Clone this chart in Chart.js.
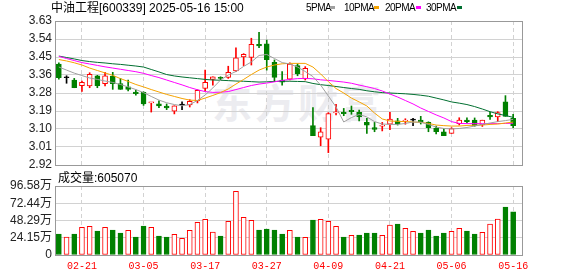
<!DOCTYPE html>
<html>
<head>
<meta charset="utf-8">
<script src="https://cdn.jsdelivr.net/npm/chart.js@4.4.1/dist/chart.umd.min.js"></script>
<style>
  body { margin: 0; background: #fff; }
  #wrap { position: relative; width: 578px; height: 276px; overflow: hidden; font-family: 'Liberation Sans', 'Noto Sans CJK SC', sans-serif; }
  #wrap canvas { position: absolute; left: 0; }
  .txt { position: absolute; white-space: nowrap; font-size: 12px; color: #000; line-height: 12px; }
  .leg { position: absolute; top: 3px; font-size: 10px; letter-spacing: -0.5px; line-height: 10px; color: #000; white-space: nowrap; }
  .sw { position: absolute; top: 6px; width: 5px; height: 3px; }
  #mark { position: absolute; left: 212px; top: 72px; font: bold 40px 'Noto Sans CJK SC', sans-serif; color: #ececf0; letter-spacing: 3px; }
</style>
</head>
<body>
<div id="wrap">
  <div id="mark">东方财富</div>
  <canvas id="kline" width="578" height="176" style="top:0"></canvas>
  <canvas id="vol" width="578" height="106" style="top:170px"></canvas>
  <div class="txt" style="left:51px; top:2px">中油工程[600339] 2025-05-16 15:00</div>
  <div class="leg" style="left:306px">5PMA</div><div class="sw" style="left:330px; background:#a0a0a0"></div>
  <div class="leg" style="left:344px">10PMA</div><div class="sw" style="left:374px; background:#f5a300"></div>
  <div class="leg" style="left:385px">20PMA</div><div class="sw" style="left:416px; background:#ff00ff"></div>
  <div class="leg" style="left:426px">30PMA</div><div class="sw" style="left:457px; background:#006f30"></div>
  <div class="txt" style="left:58px; top:172px">成交量:605070</div>
</div>
<script>
const dates = [
  '02-18', '02-19', '02-20', '02-21', '02-24', '02-25', '02-26', '02-27', '02-28', '03-03',
  '03-04', '03-05', '03-06', '03-07', '03-10', '03-11', '03-12', '03-13', '03-14', '03-17',
  '03-18', '03-19', '03-20', '03-21', '03-24', '03-25', '03-26', '03-27', '03-28', '03-31',
  '04-01', '04-02', '04-03', '04-07', '04-08', '04-09', '04-10', '04-11', '04-14', '04-15',
  '04-16', '04-17', '04-18', '04-21', '04-22', '04-23', '04-24', '04-25', '04-28', '04-29',
  '04-30', '05-06', '05-07', '05-08', '05-09', '05-12', '05-13', '05-14', '05-15', '05-16'
]
const opens = [
  3.418, 3.350, 3.339, 3.311, 3.310, 3.360, 3.321, 3.359, 3.321, 3.305,
  3.280, 3.278, 3.226, 3.222, 3.211, 3.185, 3.216, 3.216, 3.236, 3.298,
  3.342, 3.350, 3.352, 3.384, 3.453, 3.451, 3.515, 3.517, 3.426, 3.339,
  3.343, 3.410, 3.344, 3.114, 3.057, 3.047, 3.177, 3.180, 3.190, 3.180,
  3.130, 3.104, 3.111, 3.121, 3.138, 3.136, 3.141, 3.141, 3.130, 3.102,
  3.083, 3.076, 3.124, 3.142, 3.142, 3.119, 3.165, 3.157, 3.231, 3.150
]
const highs = [
  3.424, 3.360, 3.347, 3.334, 3.375, 3.362, 3.377, 3.377, 3.347, 3.339,
  3.290, 3.281, 3.229, 3.237, 3.221, 3.212, 3.232, 3.242, 3.291, 3.388,
  3.355, 3.355, 3.407, 3.498, 3.469, 3.545, 3.574, 3.536, 3.438, 3.380,
  3.424, 3.419, 3.405, 3.203, 3.104, 3.178, 3.219, 3.199, 3.211, 3.191,
  3.150, 3.130, 3.130, 3.180, 3.150, 3.148, 3.150, 3.160, 3.133, 3.112,
  3.099, 3.104, 3.153, 3.152, 3.152, 3.141, 3.180, 3.183, 3.262, 3.170
]
const lows = [
  3.343, 3.323, 3.301, 3.283, 3.301, 3.301, 3.310, 3.293, 3.293, 3.285,
  3.264, 3.214, 3.181, 3.203, 3.193, 3.172, 3.193, 3.206, 3.226, 3.285,
  3.314, 3.340, 3.347, 3.380, 3.410, 3.413, 3.498, 3.388, 3.331, 3.314,
  3.339, 3.360, 3.339, 3.064, 3.015, 2.981, 3.167, 3.163, 3.170, 3.137,
  3.076, 3.084, 3.088, 3.094, 3.117, 3.121, 3.114, 3.122, 3.084, 3.073,
  3.064, 3.076, 3.117, 3.127, 3.111, 3.110, 3.145, 3.134, 3.160, 3.104
]
const closes = [
  3.350, 3.350, 3.301, 3.328, 3.367, 3.311, 3.360, 3.321, 3.293, 3.293,
  3.272, 3.221, 3.229, 3.211, 3.201, 3.212, 3.216, 3.234, 3.288, 3.328,
  3.355, 3.347, 3.377, 3.448, 3.466, 3.515, 3.507, 3.439, 3.352, 3.328,
  3.417, 3.370, 3.397, 3.064, 3.083, 3.173, 3.182, 3.173, 3.183, 3.157,
  3.116, 3.096, 3.117, 3.147, 3.122, 3.141, 3.141, 3.132, 3.104, 3.084,
  3.064, 3.099, 3.141, 3.134, 3.114, 3.141, 3.157, 3.178, 3.160, 3.114
]
// volume in 万
const volumes = [
  29.4, 25.2, 29.4, 38.7, 40.1, 33.6, 38.7, 35.0, 30.8, 34.5,
  25.2, 40.6, 38.7, 26.6, 25.2, 28.9, 23.3, 34.5, 45.7, 50.0,
  32.2, 26.6, 47.2, 89.2, 52.8, 48.6, 35.0, 36.4, 35.0, 29.4,
  34.5, 25.2, 24.7, 49.0, 50.0, 47.2, 40.1, 25.2, 27.5, 28.0,
  30.8, 30.8, 27.5, 42.0, 43.4, 37.3, 33.1, 30.8, 35.0, 26.6,
  30.8, 33.1, 37.3, 33.6, 29.4, 31.7, 43.4, 50.4, 67.2, 60.5
]
const ma5 = [
  3.403, 3.388, 3.373, 3.361, 3.349, 3.342, 3.334, 3.327, 3.317, 3.305,
  3.292, 3.277, 3.258, 3.240, 3.227, 3.218, 3.212, 3.218, 3.238, 3.265,
  3.300, 3.339, 3.364, 3.381, 3.406, 3.428, 3.460, 3.465, 3.445, 3.425,
  3.418, 3.403, 3.381, 3.356, 3.314, 3.260, 3.206, 3.132, 3.154, 3.169,
  3.157, 3.134, 3.122, 3.120, 3.120, 3.125, 3.132, 3.131, 3.120, 3.107,
  3.100, 3.098, 3.100, 3.105, 3.112, 3.120, 3.127, 3.134, 3.139, 3.145
]
const ma10 = [
  3.440, 3.433, 3.424, 3.413, 3.398, 3.386, 3.374, 3.362, 3.346, 3.332,
  3.317, 3.305, 3.292, 3.280, 3.268, 3.258, 3.248, 3.240, 3.238, 3.250,
  3.263, 3.277, 3.295, 3.319, 3.342, 3.366, 3.388, 3.403, 3.413, 3.419,
  3.421, 3.421, 3.421, 3.403, 3.369, 3.331, 3.297, 3.275, 3.250, 3.231,
  3.211, 3.176, 3.147, 3.137, 3.135, 3.134, 3.132, 3.130, 3.125, 3.117,
  3.114, 3.112, 3.112, 3.115, 3.116, 3.117, 3.120, 3.122, 3.127, 3.132
]
const ma20 = [
  3.456, 3.445, 3.435, 3.425, 3.418, 3.411, 3.404, 3.398, 3.392, 3.386,
  3.380, 3.372, 3.361, 3.351, 3.339, 3.327, 3.315, 3.302, 3.291, 3.282,
  3.278, 3.279, 3.282, 3.292, 3.302, 3.312, 3.319, 3.324, 3.330, 3.337,
  3.342, 3.346, 3.347, 3.345, 3.340, 3.337, 3.333, 3.329, 3.323, 3.314,
  3.306, 3.297, 3.285, 3.270, 3.255, 3.238, 3.221, 3.201, 3.184, 3.167,
  3.152, 3.134, 3.125, 3.124, 3.124, 3.124, 3.124, 3.124, 3.125, 3.126
]
const ma30 = [
  3.457, 3.450, 3.443, 3.435, 3.430, 3.426, 3.423, 3.419, 3.416, 3.412,
  3.408, 3.403, 3.391, 3.379, 3.366, 3.359, 3.354, 3.350, 3.346, 3.342,
  3.339, 3.338, 3.336, 3.334, 3.333, 3.331, 3.329, 3.330, 3.332, 3.333,
  3.333, 3.332, 3.331, 3.322, 3.316, 3.312, 3.307, 3.302, 3.297, 3.293,
  3.286, 3.281, 3.277, 3.275, 3.273, 3.271, 3.268, 3.264, 3.259, 3.250,
  3.241, 3.231, 3.225, 3.218, 3.208, 3.196, 3.183, 3.172, 3.164, 3.155
]
const priceTicks = ['2.92', '3.01', '3.10', '3.19', '3.28', '3.36', '3.45', '3.54', '3.63']
const volTicks = ['0', '24.15万', '48.29万', '72.44万', '96.58万']
const dateTicks = ['02-21', '03-05', '03-17', '03-27', '04-09', '04-21', '05-06', '05-16']

const RED = '#ff0000'
const GREEN = '#008000'
const GRID = '#d2d2d2'
const P_MIN = 2.92, P_MAX = 3.63
const V_MAX = 96.58
const X_MIN = -0.5, X_MAX = 60.15

const candleColor = i => closes[i] > opens[i] ? RED : closes[i] < opens[i] ? GREEN : '#000'
const candleFill = i => closes[i] > opens[i] ? '#fff' : candleColor(i)
const volUp = i => closes[i] >= (i ? closes[i - 1] : opens[i])
const tickIdx = dateTicks.map(d => dates.indexOf(d))

// ── gray frame around each plot ──
const frame = {
  id: 'frame',
  beforeDatasetsDraw(chart) {
    const { ctx, chartArea: a } = chart
    ctx.save()
    ctx.strokeStyle = '#999'
    ctx.lineWidth = 1
    ctx.strokeRect(Math.round(a.left) + 0.5, Math.round(a.top) + 0.5, Math.round(a.width), Math.round(a.height))
    ctx.restore()
  }
}

const xAxis = (labels) => ({
  type: 'linear',
  min: X_MIN,
  max: X_MAX,
  offset: false,
  afterBuildTicks: s => { s.ticks = tickIdx.map(v => ({ value: v })) },
  afterFit: s => { s.height = labels ? 21 : 11 },
  ticks: {
    display: labels,
    autoSkip: false,
    maxRotation: 0,
    padding: 5,
    color: '#ff0000',
    font: { family: "'Liberation Mono', monospace", size: 10 },
    callback: v => dates[v]
  },
  grid: { color: GRID, drawTicks: false, offset: false },
  border: { display: false, dash: [4, 3] }
})

const yAxis = (min, max, labels) => ({
  min, max,
  afterBuildTicks: s => { s.ticks = labels.map((_, k) => ({ value: min + k * (max - min) / (labels.length - 1) })) },
  afterFit: s => { s.width = 55 },
  ticks: {
    autoSkip: false,
    padding: 3,
    color: '#222',
    font: { family: "'Liberation Sans', 'Noto Sans CJK SC', sans-serif", size: 12 },
    callback: (v, k) => labels[k]
  },
  grid: { color: GRID, drawTicks: false },
  border: { display: false }
})

const common = {
  responsive: false,
  animation: false,
  events: [],
  plugins: { legend: { display: false }, tooltip: { enabled: false } }
}

const maLine = (data, color) => ({
  type: 'line',
  data: data.map((v, i) => ({ x: i, y: v })),
  borderColor: color,
  borderWidth: 1,
  pointRadius: 0,
  tension: 0,
  order: 0
})

// ── K-line panel ──
new Chart(document.getElementById('kline'), {
  type: 'bar',
  data: {
    datasets: [
      maLine(ma5, '#a0a0a0'),
      maLine(ma10, '#f5a300'),
      maLine(ma20, '#ff00ff'),
      maLine(ma30, '#006f30'),
      {
        data: opens.map((o, i) => ({ x: i, y: [o, closes[i]] })),
        backgroundColor: opens.map((_, i) => candleFill(i)),
        borderColor: opens.map((_, i) => candleColor(i)),
        borderWidth: 1,
        borderSkipped: false,
        barThickness: 5,
        minBarLength: 1,
        grouped: false,
        order: 1
      },
      {
        data: lows.map((l, i) => ({ x: i, y: [l, highs[i]] })),
        backgroundColor: lows.map((_, i) => candleColor(i)),
        borderWidth: 0,
        barThickness: 1,
        grouped: false,
        order: 2
      }
    ]
  },
  options: {
    ...common,
    layout: { padding: { left: 0, right: 56, top: 21, bottom: 0 } },
    scales: { x: xAxis(false), y: yAxis(P_MIN, P_MAX, priceTicks) }
  },
  plugins: [frame]
})

// ── Volume panel ──
new Chart(document.getElementById('vol'), {
  type: 'bar',
  data: {
    datasets: [{
      data: volumes.map((v, i) => ({ x: i, y: v })),
      backgroundColor: volumes.map((_, i) => volUp(i) ? '#fff' : GREEN),
      borderColor: volumes.map((_, i) => volUp(i) ? RED : GREEN),
      borderWidth: 1,
      borderSkipped: false,
      barThickness: 5
    }]
  },
  options: {
    ...common,
    layout: { padding: { left: 0, right: 56, top: 16, bottom: 0 } },
    scales: { x: xAxis(true), y: yAxis(0, V_MAX, volTicks) }
  },
  plugins: [frame]
})
</script>
</body>
</html>
